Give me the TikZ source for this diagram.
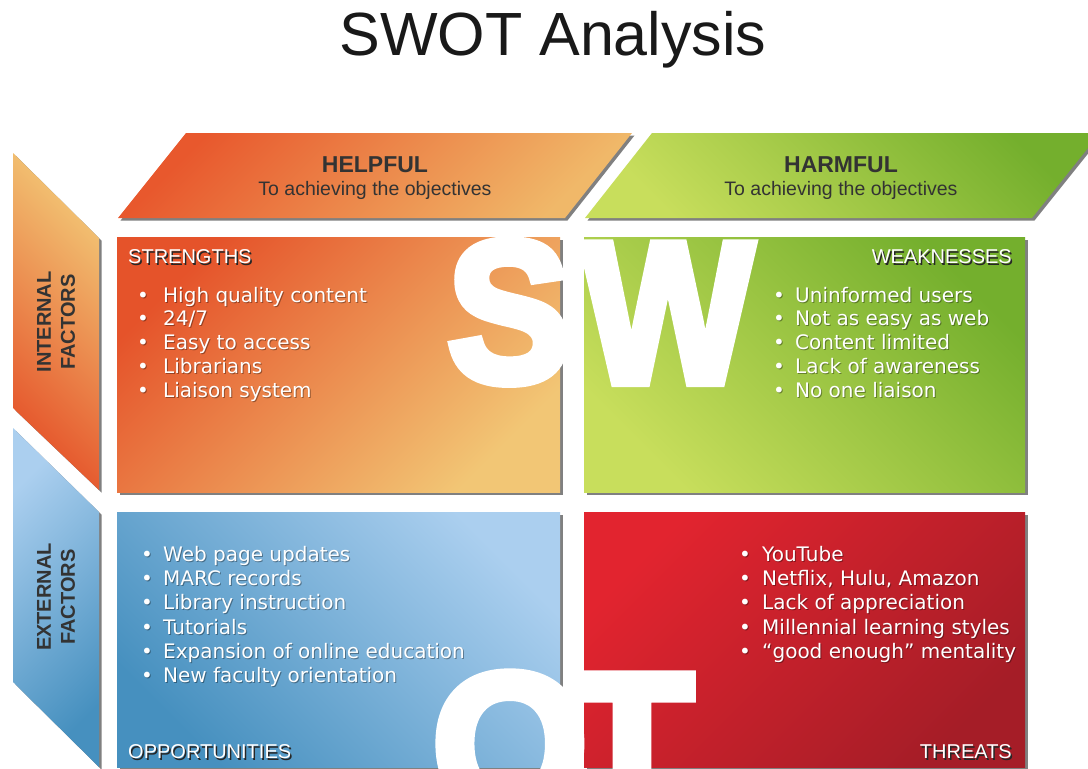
\documentclass[tikz,border=0pt]{standalone}
\usepackage{fontspec}
\setmainfont{Liberation Sans}
\newfontfamily\itemfont{DejaVu Sans}
\newfontfamily\heavyfont{Liberation Sans Bold}[FakeBold=5]

\definecolor{ordark}{HTML}{E5532A}
\definecolor{orlight}{HTML}{F2C675}
\definecolor{hddark}{HTML}{E8582D}
\definecolor{hdlight}{HTML}{F0B869}
\definecolor{grdark}{HTML}{74AF2D}
\definecolor{grlight}{HTML}{C8DE5C}
\definecolor{bllight}{HTML}{ABCFEF}
\definecolor{bldark}{HTML}{4690BF}
\definecolor{rdbright}{HTML}{E2242F}
\definecolor{rddark}{HTML}{A51D27}
\definecolor{headtext}{HTML}{333333}
\definecolor{shadowgray}{HTML}{808080}

% one bullet line: name, bullet x, text x, baseline y, text
\newcommand{\swotitem}[5]{%
  \node[itemshadow, anchor=base] (#1bs) at (#2+1,#4+1) {•};
  \node[itemtext, anchor=base] (#1b) at (#2,#4) {•};
  \node[itemshadow, anchor=base west] (#1s) at (#3+1,#4+1) {#5};
  \node[itemtext, anchor=base west] (#1) at (#3,#4) {#5};
}

\begin{document}
\begin{tikzpicture}[x=1pt,y=-1pt,
  dropshadow/.style={fill=shadowgray},
  itemtext/.style={font=\itemfont\fontsize{20}{24}\selectfont, text=white, inner sep=0pt},
  itemshadow/.style={font=\itemfont\fontsize{20}{24}\selectfont, text=black, opacity=0.35, inner sep=0pt},
  tag/.style={font=\fontsize{20}{24}\selectfont, text=white, inner sep=0pt},
  tagshadow/.style={font=\fontsize{20}{24}\selectfont, text=black!85, inner sep=0pt},
  headbig/.style={font=\bfseries\fontsize{23}{26}\selectfont, text=headtext, inner sep=0pt},
  headsmall/.style={font=\fontsize{19.5}{22}\selectfont, text=headtext, inner sep=0pt},
  sidelabel/.style={font=\bfseries\fontsize{20}{24}\selectfont, text=headtext, align=center, rotate=90, inner sep=0pt},
  bigletter/.style={font=\heavyfont\fontsize{200}{200}\selectfont, text=white, inner sep=0pt, anchor=base}
]
\useasboundingbox (0,0) rectangle (1088,769);
\fill[white] (0,0) rectangle (1088,769);

\begin{scope}
\clip (0,0) rectangle (1088,769);

% title
\node[font=\fontsize{61}{70}\selectfont, text=black!90, inner sep=0pt] (title) at (553,40) {SWOT Analysis};

% drop shadows
\fill[dropshadow] (120.5,220.5) -- (188.5,135.5) -- (634.5,135.5) -- (567.5,220.5) -- cycle;
\fill[dropshadow] (587.5,220.5) -- (654.5,135.5) -- (1102.5,135.5) -- (1034.5,220.5) -- cycle;
\fill[dropshadow] (15.5,155.5) -- (101.5,240.5) -- (101.5,492.5) -- (15.5,410.5) -- cycle;
\fill[dropshadow] (15.5,430.5) -- (101.5,514.5) -- (101.5,769.5) -- (15.5,684.5) -- cycle;
\fill[dropshadow] (119.5,239.5) rectangle (562.5,494.5);
\fill[dropshadow] (586.5,239.5) rectangle (1027.5,494.5);
\fill[dropshadow] (119.5,514.5) rectangle (562.5,769.5);
\fill[dropshadow] (586.5,514.5) rectangle (1027.5,769.5);

% column headers
\shade[top color=hddark, bottom color=hdlight, shading angle=45]
  (118,218) -- (186,133) -- (632,133) -- (565,218) -- cycle;
\shade[top color=grdark, bottom color=grlight, shading angle=-45]
  (585,218) -- (652,133) -- (1100,133) -- (1032,218) -- cycle;

% row headers
\shade[top color=orlight, bottom color=ordark, shading angle=-45]
  (13,153) -- (99,238) -- (99,490) -- (13,408) -- cycle;
\shade[top color=bllight, bottom color=bldark, shading angle=45]
  (13,428) -- (99,512) -- (99,767) -- (13,682) -- cycle;

% quadrants
\shade[top color=ordark, bottom color=orlight, shading angle=45] (117,237) rectangle (560,492);
\shade[top color=grdark, bottom color=grlight, shading angle=-45] (584,237) rectangle (1025,492);
\shade[top color=bllight, bottom color=bldark, shading angle=-45] (117,512) rectangle (560,767);
\shade[top color=rdbright, bottom color=rddark, shading angle=45] (584,512) rectangle (1025,767);

% large letters
\node[bigletter] (bigS) at (509,381) {\scalebox{0.92}[1]{S}};
\node[bigletter] (bigW) at (668,382) {\scalebox{0.9}[1]{W}};
\node[bigletter] (bigO) at (510,813) {O};
\node[bigletter] (bigT) at (632,813) {T};

% header texts
\node[headbig] (helpful) at (375,165) {HELPFUL};
\node[headsmall] (helpfulsub) at (375,190) {To achieving the objectives};
\node[headbig] (harmful) at (841,165) {HARMFUL};
\node[headsmall] (harmfulsub) at (841,190) {To achieving the objectives};

\node[sidelabel] (internal) at (56,322) {INTERNAL\\FACTORS};
\node[sidelabel] (external) at (56,597) {EXTERNAL\\FACTORS};

% quadrant titles
\node[tagshadow, anchor=west] (strs) at (129.5,258.5) {STRENGTHS};
\node[tag, anchor=west] (str) at (128,257) {STRENGTHS};
\node[tagshadow, anchor=east] (weas) at (1013.5,258.5) {WEAKNESSES};
\node[tag, anchor=east] (wea) at (1012,257) {WEAKNESSES};
\node[tagshadow, anchor=west] (opps) at (129.5,753.5) {OPPORTUNITIES};
\node[tag, anchor=west] (opp) at (128,752) {OPPORTUNITIES};
\node[tagshadow, anchor=east] (thrs) at (1013.5,753.5) {THREATS};
\node[tag, anchor=east] (thr) at (1012,752) {THREATS};

% strengths
\swotitem{sa}{143}{163}{302}{High quality content}
\swotitem{sb}{143}{163}{325}{24/7}
\swotitem{sc}{143}{163}{349}{Easy to access}
\swotitem{sd}{143}{163}{373}{Librarians}
\swotitem{se}{143}{163}{397}{Liaison system}

% weaknesses
\swotitem{wa}{779}{795}{302}{Uninformed users}
\swotitem{wb}{779}{795}{325}{Not as easy as web}
\swotitem{wc}{779}{795}{349}{Content limited}
\swotitem{wd}{779}{795}{373}{Lack of awareness}
\swotitem{we}{779}{795}{397}{No one liaison}

% opportunities
\swotitem{oa}{147}{163}{561}{Web page updates}
\swotitem{ob}{147}{163}{585}{MARC records}
\swotitem{oc}{147}{163}{609}{Library instruction}
\swotitem{od}{147}{163}{634}{Tutorials}
\swotitem{oe}{147}{163}{658}{Expansion of online education}
\swotitem{of}{147}{163}{682}{New faculty orientation}

% threats
\swotitem{ta}{745}{762}{561}{YouTube}
\swotitem{tb}{745}{762}{585}{Netflix, Hulu, Amazon}
\swotitem{tc}{745}{762}{609}{Lack of appreciation}
\swotitem{td}{745}{762}{634}{Millennial learning styles}
\swotitem{te}{745}{762}{658}{“good enough” mentality}
\end{scope}
\end{tikzpicture}
\end{document}
